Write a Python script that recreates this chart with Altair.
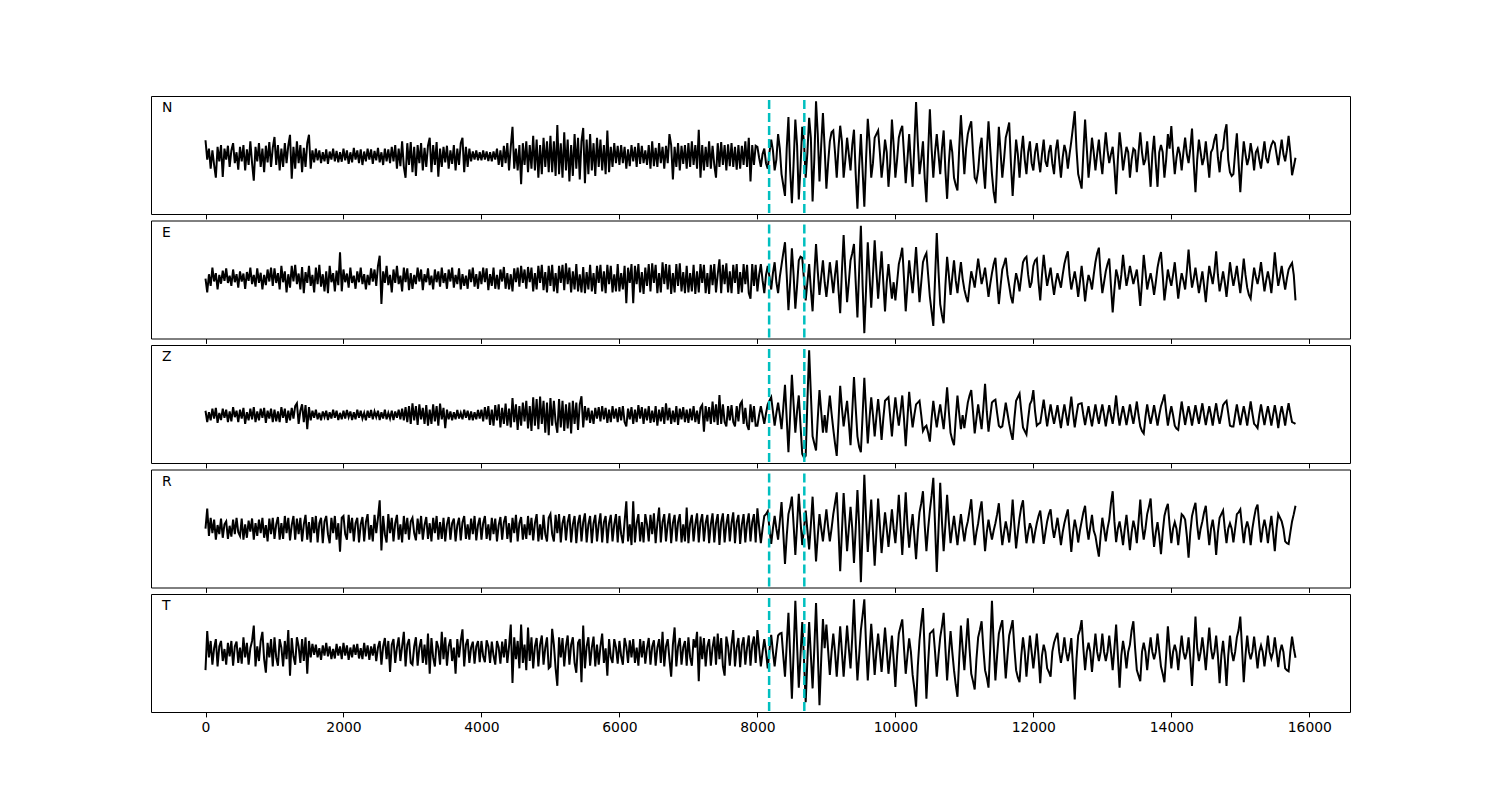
import altair as alt
import pandas as pd

# ---- data: trace amplitudes (relative units, 0 = baseline) ----
# one row per 1000 samples, one value every 25 samples, starting at 0
STEP = 25
ROW_SPAN = 1000

N_ROWS = [
    [43, -10, 20, -35, 15, -25, -60, 25, -15, 30, -58, 20, -10, 28, -30, 15, 35, -20, 10, -38, 25, -15, 30, -40, 18, -25, 40, -20, -68, 25, -15, 35, -30, 20, -45, 28, -18, 38, -30, 22],
    [52, -25, 30, -40, 20, -30, 35, -20, 28, 58, -63, 25, -35, 40, -20, 30, -45, 22, -30, 35, 58, -35, 15, -18, 20, -12, 15, -20, 10, -15, 18, -22, 12, -10, 20, -15, 14, -18, 10, -16],
    [20, -12, 15, -22, 10, -18, 22, -10, 15, -20, 18, -25, 12, -15, 20, -10, 18, -22, 14, -12, 22, -18, 10, -25, 20, -15, 18, -20, 25, -15, 30, -35, 20, -28, 40, -30, -60, 35, -25, 38],
    [-45, 25, -55, 30, -20, 35, -40, 22, -30, 28, 50, -45, 30, -25, 38, -57, 20, -30, 25, -18, 28, -35, 15, -22, 30, -40, 20, -25, 35, 50, -45, 25, -30, 20, -15, 12, -10, 15, -12, 10],
    [-12, 15, -10, 12, -14, 10, -15, 12, -10, 20, -25, 15, -30, 28, -20, 35, -40, 25, 80, -35, 20, -40, 30, -78, 35, -25, 40, -45, 30, -35, 55, -40, 45, -60, 30, -50, 50, -30, 40, -45],
    [55, -45, 40, -55, 85, -50, 35, -60, 65, -40, 45, -70, 30, -55, 60, -35, 50, -65, 40, 77, -75, 45, -50, 60, -40, 35, -55, 50, -30, 45, -40, 30, -50, 70, -45, 25, -30, 35, -20, 28],
    [-25, 30, -20, 25, -35, 18, -28, 30, -15, 25, -30, 35, -22, 28, -20, 15, -25, 30, -35, 40, -28, 22, -30, 35, -20, 25, -35, 28, -20, 60, 30, -65, 25, -30, 35, -40, 28, -22, 30, -35],
    [35, -30, 40, -25, 30, -35, 72, -60, 30, -40, 25, -30, 40, -35, 28, -25, -60, 35, -30, 38, -25, 30, -40, 32, -28, 35, -30, 25, -38, 30, -35, 28, -25, 40, -30, 50, -70, 30, -25, 28],
    [25, -5, -30, 5, 20, -20, -35, 10, 45, 15, -40, -10, 60, 20, -50, -80, -110, 20, 107, -40, -130, -20, 100, 30, -120, -30, 80, 40, -60, 10, 105, 50, -125, -10, 150, 60, -70, 30, 118, 20],
    [-90, -20, 40, 65, 70, 10, -60, 20, 83, 40, -60, -10, 50, 5, -40, 30, 72, -50, -145, -30, 60, -40, -140, -10, 102, 40, -60, -20, 50, 60, 70, 10, -60, -15, 45, 10, -85, -20, 100, 30],
    [-60, -10, 50, 70, 83, 5, -75, -10, 60, -20, -85, 30, 148, 40, -50, -10, 40, -60, -127, 10, 128, 20, -60, 10, 60, 5, -50, 20, 70, -40, -118, -20, 45, 10, -60, -80, -95, 20, 112, 30],
    [-50, 20, 60, 80, 95, 10, -60, -70, -40, 20, 50, -30, -90, 10, 95, 20, -50, -100, -130, -20, 80, 10, -60, -10, 50, 70, 92, -20, -110, -30, 45, 5, -60, 10, 55, -10, -50, 10, 40, -20],
    [-40, 10, 35, -10, -45, 5, 45, -15, -30, 10, 30, -20, -50, 15, 45, -10, -60, -5, 30, 10, -35, 5, 40, 80, 123, 20, -50, -70, -90, 10, 100, 20, -60, -10, 50, 10, -40, 5, 45, -10],
    [-50, 10, 65, 15, -20, 5, 25, -30, -105, -10, 65, 20, -40, -5, 25, 10, -60, -10, 20, 15, -45, 10, 65, 10, -25, -10, 40, -20, -85, 5, 55, -20, -85, 10, 30, 10, -60, -10, 60, 20],
    [82, 10, -50, -5, 25, 5, -40, 10, 50, 5, -20, 20, 75, -20, -100, -10, 45, 10, -25, -5, 40, -10, -60, 10, 20, 45, 60, -5, -45, 10, 20, 65, 87, -10, -45, -55, -50, 10, 62, -20],
    [-100, -20, 40, 5, -25, -5, 35, 5, -40, 10, 20, -10, -35, 5, 40, -5, -20, 10, 30, 40, 35, 5, -25, 10, 45, 5, -15, 15, 55, 10, -53, -30, -5],
]

E_ROWS = [
    [0, -38, 12, -20, 30, -8, 15, -30, 10, -14, 22, -6, 28, -12, 8, -20, 25, -10, 12, -25, 20, -8, 14, -28, 18, -6, 30, -15, 10, -22, 28, -12, 16, -30, 10, -18, 25, -8, 30, -20],
    [28, -12, 15, -30, 35, -10, 20, -38, 12, -25, 35, -8, 38, -15, 14, -30, 32, -40, 18, -12, 35, -20, 10, -38, 30, -15, 38, -22, 12, -35, 20, -40, 35, -10, 15, -35, 22, -18, 72, -35],
    [25, -10, 14, -25, 30, -12, 8, -28, 20, -10, 30, -15, 12, -30, 10, -18, 28, -8, 25, -20, 35, 63, -70, 20, -12, 35, -18, 10, -38, 25, -12, 35, -15, 8, -35, 30, -10, 28, -32, 15],
    [-28, 10, -15, 30, -8, 25, -32, 12, -10, 28, -18, 8, -30, 25, -10, 20, -22, 30, -12, 15, -28, 25, -8, 30, -25, 10, -15, 28, -30, 12, -20, 8, -28, 25, -10, 30, -22, 12, -28, 20],
    [-15, 30, -10, 28, -32, 12, -20, 30, -28, 10, -30, 25, -8, 32, -28, 15, -30, 12, -35, 28, -10, 30, -22, 35, -12, 25, -28, 32, -10, 30, -35, 15, -30, 35, -12, 38, -32, 18, -38, 35],
    [-20, 38, -35, 15, -40, 35, -12, 38, -32, 42, -15, 30, -38, 20, -30, 40, -35, 12, -38, 32, -40, 18, -30, 38, -35, 15, -42, 35, -12, 38, -35, 20, -40, 38, -15, 35, -38, 12, -35, 40],
    [-35, 15, -30, 35, -68, 30, -12, 40, -68, 35, -15, 40, -38, 18, -42, 30, -20, 40, -35, 42, -12, 38, -40, 15, -38, 45, -15, 40, -30, 38, -42, 15, -38, 40, -20, 42, -35, 18, -40, 35],
    [-38, 15, -35, 38, -42, 20, -38, 40, -12, 38, -40, 15, -42, 38, -18, 40, -38, 12, 53, -40, 38, -15, 42, -38, 20, -40, 38, -12, 40, -42, 18, -38, 40, -15, 38, -40, -55, 40, -20, 38],
    [-35, 10, 40, -5, -40, 10, 35, 5, -30, 15, 45, -10, -40, 5, 38, 70, 100, 10, -87, -10, 83, 10, -83, -20, 50, 60, 57, 0, -60, -10, 40, -30, -90, 10, 95, 20, -45, 5, 50, -10],
    [-50, -5, 45, 5, -40, 10, 50, -30, -95, 20, 120, 20, -65, -10, 50, 70, 95, -10, -107, 20, 145, -20, -150, -30, 100, 10, -80, 10, 105, 20, -55, 10, 75, -10, -90, -10, 40, -10, -55, -10],
    [-60, -10, 40, 60, 85, 0, -90, -20, 50, 5, -40, 20, 87, 10, -65, -10, 45, 60, 70, 10, -50, -90, -130, 0, 125, 20, -70, -100, -123, -20, 60, 10, -45, 5, 50, -5, -40, 5, 45, 0],
    [-30, -50, -65, -20, 20, 0, -25, 15, 55, 20, -15, 5, 30, -10, -50, -15, 15, 40, 57, -10, -70, -20, 25, 40, 57, 10, -20, -50, -68, -20, 15, -5, -35, 5, 45, 55, 60, 10, -25, -10],
    [35, 50, 55, -10, -60, 10, 65, 20, -20, 5, 30, -10, -45, -10, 15, -5, -25, 10, 40, 60, 75, 10, -30, -5, 20, -10, -50, -10, 35, -10, -63, -20, 10, -5, -30, 10, 45, 70, 85, 10],
    [-40, -10, 20, 40, 55, -20, -93, -30, 25, 5, -30, 10, 65, 20, -20, 5, 35, 10, -15, 5, 25, -20, -75, -10, 65, 20, -30, -5, 15, -10, -45, -10, 30, 55, 73, 10, -60, -20, 25, 0],
    [-20, 10, 45, -5, -55, -15, 15, -5, -30, 20, 80, 20, -25, 0, 30, -5, -40, -10, 20, -20, -65, -10, 35, 10, -15, 20, 75, 10, -35, -10, 20, -10, -50, -5, 45, 10, -20, 5, 35, -5],
    [-40, 5, 55, 10, -25, -45, -55, -10, 30, 5, -15, 10, 45, 5, -35, -5, 20, -5, -40, 10, 72, 20, -20, 5, 35, 0, -30, 0, 25, 35, 43, 10, -60],
]

Z_ROWS = [
    [12, -20, 8, -15, 18, -10, 20, -22, 6, -14, 18, -8, 15, -20, 10, -18, 22, -6, 12, -20, 15, -10, 20, -25, 8, -15, 18, -12, 22, -20, 10, -15, 18, -8, 20, -22, 12, -10, 18, -20],
    [15, -18, 10, -20, 22, -8, 18, -22, 12, -15, 20, -10, 25, 33, -25, 12, 30, -20, 28, -40, 22, -15, 12, -8, 15, -12, 6, -15, 10, -6, 12, -14, 8, -10, 15, -8, 12, -14, 6, -12],
    [12, -10, 14, -6, 10, -14, 8, -12, 15, -8, 12, -10, 6, -15, 12, -8, 14, -12, 10, -6, 12, -14, 8, -10, 15, -12, 6, -10, 12, -14, 10, -8, 15, -12, 18, -15, 22, -20, 25, -25],
    [33, -15, 25, -28, 30, -12, 20, -25, 28, -30, 15, -25, 30, -18, 25, -30, 32, -12, 20, -37, 15, -12, 10, -15, 8, -12, 14, -10, 6, -12, 15, -8, 12, -14, 10, -15, 8, -12, 14, -10],
    [15, -18, 22, -12, 25, -28, 15, -30, 28, -15, 30, -35, 20, -25, 32, -30, 18, -35, 48, -20, 30, -42, 25, -30, 35, -18, 40, -38, 25, -45, 50, -30, 45, -40, 52, -25, 40, -50, 35, -57],
    [48, -30, 40, -20, -50, 45, -35, 40, -45, 30, -38, 35, -52, 40, -25, 35, -42, 30, 53, -35, 25, -15, 20, -22, 12, -25, 20, -10, 22, -18, 25, -12, 20, -22, 15, -20, 25, -10, 18, -20],
    [22, -15, 25, -20, -32, 18, -12, 22, -25, 15, -20, 28, -10, 22, -25, 18, -15, 25, -22, 12, -20, 25, -30, 15, -18, 22, -25, 33, -15, 20, -25, 12, -20, 25, -28, 18, -12, 22, -20, 15],
    [-22, 18, -15, 25, -20, 12, -25, 20, 28, -47, 25, -18, 22, -25, 38, -20, 30, -28, 56, -25, 30, -20, -32, 25, -15, 28, -20, -32, 25, -18, 30, 38, -25, 20, -28, -42, 30, -20, 25, -30],
    [-30, 0, 25, 0, -25, 5, 30, 40, 50, 10, -30, 5, 35, 0, -40, 20, 85, -10, -105, 0, 113, 30, -50, 10, 55, -30, -110, -120, -115, 40, 182, 60, -60, -80, -100, -10, 70, 10, -50, 0],
    [-50, 5, 55, 5, -40, -80, -115, -20, 82, 20, -32, 5, 40, -20, -85, 10, 107, 20, -60, -90, -105, 0, 105, 10, -80, -10, 50, 0, -60, -5, 45, -5, -70, -10, 40, 45, 50, -5, -60, 0],
    [50, 5, -30, 10, 55, -10, -88, -10, 65, 10, -35, 0, 30, 35, 40, 0, -45, -35, -30, -50, -75, -10, 40, 0, -35, 0, 30, -5, -40, 15, 78, 10, -50, -70, -85, -10, 55, 5, -40, 0],
    [-37, 0, 35, 55, 70, 10, -52, -10, 30, -5, -40, 20, 88, 10, -47, -5, 35, 40, 43, 5, -30, -35, -32, 0, 35, 5, -25, -50, -70, -10, 40, 50, 60, 10, -35, -45, -55, -10, 30, 40],
    [70, 10, -30, -25, -22, 10, 43, 5, -32, 0, 30, 0, -25, 0, 28, -5, -37, 0, 30, 0, -30, 10, 52, 5, -35, 0, 30, 32, 33, 0, -28, 0, 25, -5, -32, 0, 30, 0, -25, 5],
    [30, 0, -32, 0, 28, 0, -25, 10, 55, 5, -30, 0, 25, 0, -28, 0, 30, 0, -25, 5, 38, 0, -32, -45, -52, -5, 30, 0, -25, 0, 28, 0, -30, 0, 25, 40, 58, 10, -30, 0],
    [25, 0, -30, -38, -42, 0, 38, 5, -28, 0, 25, 0, -30, 0, 28, 0, -25, 5, 33, 0, -28, 0, 25, 0, -30, 5, 33, 0, -25, 0, 28, 35, 40, 5, -30, -32, -32, 0, 30, 0],
    [-28, 0, 25, 0, -30, 5, 38, 5, -25, -30, -37, 0, 30, 0, -28, 0, 25, 0, -30, 0, 28, 0, -37, 0, 25, 0, -30, 5, 33, 5, -20, -22, -25],
]

R_ROWS = [
    [0, 55, -20, 30, -12, 25, -30, 10, -15, 28, -25, 12, 20, -28, 8, -22, 25, -15, 30, -10, -20, 28, -30, 12, -25, 22, -8, 28, -30, 15, -20, 25, -12, 30, -25, 10, -35, 28, -15, 30],
    [-28, 12, 32, -30, 15, -28, 35, -12, 30, -32, 10, 35, -30, 28, -15, 30, -35, 12, 38, -30, 18, -38, 32, -12, 35, -38, 15, 30, -40, 20, 35, -15, -40, 30, -12, 35, -30, 15, -63, 30],
    [35, -15, -30, 38, -12, 30, -35, 15, 30, -38, 12, 32, -35, 18, 40, -30, 10, -35, 38, -12, 30, 78, -60, 35, -15, -38, 40, -12, 30, -35, 15, 38, -30, 12, -38, 35, -15, 30, -30, 20],
    [30, -12, -32, 28, -15, 35, -30, 10, 32, -28, 15, -35, 30, -12, 35, -30, 18, -28, 30, -35, 12, 32, -30, 15, 28, -35, 10, 30, -32, 18, 35, -28, 12, -30, 28, -15, 35, -32, 10, 30],
    [-30, 15, 35, -28, 12, -32, 30, -15, 28, -35, 10, 32, -30, 18, 35, -28, 15, -38, 30, -12, 38, -35, 15, 32, -30, 12, -28, 35, -18, 30, -32, 15, 40, -35, 12, -30, 38, -15, -35, 30],
    [40, -15, -35, 38, -12, 40, -38, 15, 35, -32, 18, 40, -38, 12, 35, -40, 15, 38, -35, 18, 42, -38, 12, 35, -40, 15, 38, -35, 12, 42, -38, 18, 35, -40, 15, 38, -35, 12, 40, -38],
    [35, -15, -40, 20, 75, -35, 12, -45, 75, -38, 15, 40, -35, 18, -38, 40, 12, -35, 38, -15, 42, -40, 15, 58, -38, 18, 40, -35, 12, 42, -40, 15, 38, -35, 18, 40, -38, 12, -35, 58],
    [-40, 15, 38, -35, 12, 42, -38, 18, 40, -35, 15, 38, -40, 12, 42, -38, 15, 40, -45, 18, 42, -38, 12, 40, -35, 15, 45, -40, 18, 38, -42, 12, 40, -38, 15, 42, -35, 18, 40, -38],
    [56, 5, -40, 0, 35, 40, 48, 0, -42, 0, 35, 0, -30, 20, 73, -10, -97, -20, 40, 60, 88, 10, -72, 10, 96, 20, -45, 0, 50, -5, -57, 10, 88, 0, -90, -20, 40, 0, -35, 10],
    [53, 5, -35, 0, 40, 70, 100, 0, -117, -10, 98, 20, -62, 0, 60, 0, -94, 0, 106, 10, -147, 0, 148, 30, -64, 10, 80, -10, -102, -10, 83, 10, -67, -10, 45, 0, -50, 0, 53, 0],
    [-40, 20, 93, 10, -72, 10, 100, 10, -52, 0, 40, -20, -84, -10, 45, 70, 103, 10, -62, 0, 50, 90, 140, 10, -119, 0, 126, 20, -62, 10, 93, 20, -40, 0, 35, -5, -45, 0, 40, 0],
    [-35, 0, 20, 50, 81, 10, -45, -10, 15, 50, 75, 5, -62, -10, 25, -5, -30, -5, 15, 40, 70, 5, -45, -10, 20, -5, -38, 10, 80, 10, -54, -10, 30, 60, 78, 10, -40, -10, 15, 0],
    [-40, -10, 15, 35, 50, 5, -42, -10, 20, 40, 53, 5, -25, 0, 30, -5, -45, -10, 15, 35, 53, -5, -64, -10, 25, 0, -38, -5, 20, 45, 63, 5, -30, 5, 38, -5, -20, -50, -77, -20],
    [30, 0, -35, 0, 25, 70, 103, 20, -37, 0, 20, -10, -45, 0, 38, -10, -59, -10, 22, 0, -40, 20, 80, 10, -30, 0, 40, 60, 83, 5, -50, -10, 18, -20, -70, -10, 35, 55, 68, 10],
    [-40, 0, 18, 0, -45, 0, 40, 35, 25, -20, -80, -10, 35, 55, 71, 10, -30, 0, 20, 45, 63, 5, -45, 0, 25, -10, -72, -10, 30, 40, 50, 0, -40, 0, 15, 0, -38, 0, 40, 45],
    [53, 5, -40, 0, 20, 0, -45, 0, 30, 55, 66, 10, -38, 0, 25, 0, -40, 0, 35, -10, -62, 0, 40, 30, 20, 0, -35, -40, -42, -10, 20, 40, 63],
]

T_ROWS = [
    [-50, 57, -15, 30, -35, 10, 35, -40, 15, 30, -25, 8, -35, 25, -12, 30, -38, 15, 28, -30, 12, -32, 40, -15, 25, -35, 10, 30, 72, -40, 15, -25, 30, 55, -20, -57, 25, -15, 35, -40],
    [40, -15, -38, 35, 12, -40, 30, -20, 60, -65, 38, -12, -35, 40, 15, -30, 35, -25, 40, -60, 30, -15, 22, -8, 20, -15, 10, -22, 18, -10, 25, -12, 15, -20, 8, -18, 22, -10, 15, -20],
    [25, -10, 18, -22, 12, -15, 20, -8, 22, -18, 10, -20, 25, -12, 18, -22, 15, -10, 22, -25, 12, 30, -35, 15, 38, -20, 30, -55, 20, 35, -30, 12, 40, -25, 15, 55, -40, 20, 35, -30],
    [-35, 15, 40, -38, 12, 35, -30, 20, -35, 50, -60, 38, -15, -40, 30, 12, -35, 55, -20, 40, -38, 15, 35, -25, 12, -60, 35, -15, 30, 62, -40, 20, 35, -30, 12, 28, -32, 15, 30, -28],
    [30, -12, -28, 32, 15, -30, 28, -10, -35, 30, 12, -32, 28, -15, 35, -30, 15, 75, -85, 40, -20, 30, -45, 75, -30, 20, -50, 67, -25, 40, -45, 15, 38, -40, 20, 45, -35, 12, 40, -45],
    [-40, 63, 20, -45, -93, 40, -15, 38, -40, 15, 45, -35, 20, 40, -30, -57, 25, 35, -83, 72, -45, 15, 40, -38, 12, 42, -40, 20, -35, 15, 50, -30, 10, -65, 35, -15, -30, 35, 12, -32],
    [30, -12, -35, 38, 15, -30, 32, -15, 35, -30, 12, -38, 35, -15, 30, -32, 10, 38, -35, 15, 32, -38, 12, 35, -30, 55, -40, 15, 35, -20, -68, 20, 67, -40, 15, 38, -35, 12, 30, -38],
    [40, -15, -38, 35, 12, 55, -80, 42, -20, 38, -40, 15, 35, -38, 12, 42, -35, 50, -20, 38, -40, -65, 42, 15, -38, 20, 60, -40, 12, 38, -42, 18, 40, -35, 12, 45, -38, 20, 42, -30],
    [60, 10, -40, 0, 35, 0, -45, 5, 47, 0, -40, 5, 45, 50, 52, -10, -68, 20, 107, -10, -128, 0, 140, 20, -98, -10, 82, -20, -138, -20, 82, -10, -100, 10, 134, 0, -146, -20, 90, 10],
    [75, 5, -63, 0, 50, 0, -68, 0, 70, 0, -68, 0, 72, 10, -45, 40, 144, 20, -78, -10, 60, 100, 144, 20, -78, 0, 77, 10, -63, 0, 50, 0, -55, 5, 67, 5, -60, -10, 45, -20],
    [-96, -10, 50, 70, 89, 10, -60, -10, 37, 0, -63, -100, -150, -40, 32, 80, 120, 0, -128, -30, 50, 55, 60, 0, -68, -10, 40, 70, 107, 10, -78, -5, 57, 0, -50, -90, -123, -20, 72, 10],
    [-50, 20, 92, 10, -60, -80, -103, -20, 40, 60, 84, 10, -50, -70, -98, 10, 140, 20, -78, -10, 50, 70, 87, 5, -73, -10, 45, 65, 87, 10, -50, -70, -83, -10, 40, 0, -68, -10, 45, 0],
    [-45, 0, 50, -10, -86, -10, 20, 0, -45, -55, -68, 0, 25, 40, 52, 0, -30, 0, 40, 0, -25, 0, 38, -40, -130, -20, 45, 60, 87, 10, -50, 0, 25, 0, -55, 0, 50, 0, -25, 0],
    [50, 0, -25, 0, 45, 0, -50, 10, 75, -10, -98, -10, 30, 0, -45, 0, 20, 60, 84, 10, -50, -65, -80, 0, 25, 0, -50, 0, 40, 0, -20, 0, 50, 5, -40, -60, -83, -10, 70, 10],
    [-45, 0, 20, 0, -50, 0, 45, 0, -20, 0, 40, -20, -93, 0, 97, 10, -25, 0, 40, 0, -50, 10, 67, 10, -20, 0, 45, -10, -86, -10, 30, -20, -93, -10, 45, 0, -25, 0, 40, 60],
    [97, 10, -83, -10, 45, 0, -20, 0, 42, 0, -45, 0, 18, 0, -40, 0, 45, 0, -18, 0, 40, 0, -42, 0, 20, 0, -45, -50, -53, 0, 42, 10, -16],
]

TRACE_NAMES = ["N", "E", "Z", "R", "T"]
TRACE_ROWS = [N_ROWS, E_ROWS, Z_ROWS, R_ROWS, T_ROWS]
PICKS = [8170, 8680]
X_TICKS = [0, 2000, 4000, 6000, 8000, 10000, 12000, 14000, 16000]


def to_df(rows):
    xs, ys = [], []
    for r, row in enumerate(rows):
        for j, v in enumerate(row):
            xs.append(r * ROW_SPAN + j * STEP)
            ys.append(v)
    return pd.DataFrame({"x": xs, "y": ys})


frames = [to_df(rows) for rows in TRACE_ROWS]
x_min = min(f.x.min() for f in frames)
x_max = max(f.x.max() for f in frames)
x_pad = 0.05 * (x_max - x_min)
x_scale = alt.Scale(domain=[x_min - x_pad, x_max + x_pad], nice=False, zero=False)

FONT = "DejaVu Sans"
PANEL_W = 1199
PANEL_H = 118


def panel(name, df, bottom):
    lo, hi = float(df.y.min()), float(df.y.max())
    m = 0.05 * (hi - lo)
    y_scale = alt.Scale(domain=[lo - m, hi + m], nice=False, zero=False)
    x_axis = alt.Axis(
        values=X_TICKS, labels=bottom, title=None, grid=False, domain=False,
        ticks=True, tickSize=4.9, tickWidth=1, tickColor="black",
        labelPadding=3.5, labelFontSize=13.9, labelFont=FONT,
        labelColor="black", format="d",
    )
    line = alt.Chart(df).mark_line(color="black", strokeWidth=2).encode(
        x=alt.X("x:Q", scale=x_scale, axis=x_axis),
        y=alt.Y("y:Q", scale=y_scale, axis=None),
    )
    rules = alt.Chart(pd.DataFrame({"x": PICKS})).mark_rule(
        color="#00bfbf", strokeWidth=2.5, strokeDash=[9, 4], strokeDashOffset=9
    ).encode(x=alt.X("x:Q", scale=x_scale, axis=x_axis))
    label = alt.Chart(pd.DataFrame({"label": [name]})).mark_text(
        align="left", baseline="middle", fontSize=13.9, font=FONT, color="black"
    ).encode(text="label:N", x=alt.value(11), y=alt.value(12))
    return alt.layer(line, rules, label).properties(width=PANEL_W, height=PANEL_H)


panels = [
    panel(n, f, i == len(frames) - 1)
    for i, (n, f) in enumerate(zip(TRACE_NAMES, frames))
]

chart = alt.vconcat(*panels, spacing=6.5, bounds="flush").configure_view(
    stroke="black", strokeWidth=1
).properties(
    padding={"left": 142, "top": 86, "right": 5, "bottom": 5},
    background="white",
)

chart.save("out.html", embed_options={"renderer": "svg", "actions": False})
